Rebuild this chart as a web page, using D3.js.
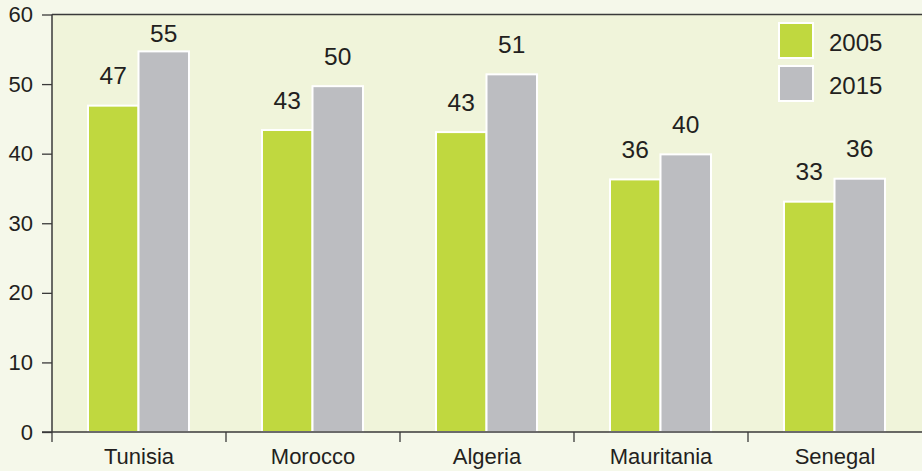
<!DOCTYPE html>
<html>
<head>
<meta charset="utf-8">
<script src="https://cdn.jsdelivr.net/npm/d3@7"></script>
<style>
  html, body { margin: 0; padding: 0; background: #f5f8ea; }
  svg { display: block; }
  text { font-family: "Liberation Sans", Arial, Helvetica, sans-serif; fill: #231f20; }
</style>
</head>
<body>
<svg id="chart" width="922" height="471"></svg>
<script>
// Countries on the x axis
const countries = ["Tunisia", "Morocco", "Algeria", "Mauritania", "Senegal"];
// Series
const years = ["2005", "2015"];
const values2005 = [46.9, 43.4, 43.1, 36.3, 33.1];
const values2015 = [54.7, 49.7, 51.4, 39.9, 36.4];
// Y axis ticks
const yTicks = [0, 10, 20, 30, 40, 50, 60];

const colors = { "2005": "#c0d83f", "2015": "#bcbdc1" };

const W = 922, H = 471;
const margin = { top: 14.5, right: 0, bottom: 39, left: 52 };
const svg = d3.select("#chart");

const x = d3.scaleBand().domain(countries).range([margin.left, W - margin.right]).paddingInner(0).paddingOuter(0);
const xSub = d3.scaleBand().domain(years).range([36, x.bandwidth() - 37]).padding(0);
const y = d3.scaleLinear().domain([0, 60]).range([H - margin.bottom, margin.top]);

// Plot background
svg.append("rect")
  .attr("x", margin.left).attr("y", margin.top)
  .attr("width", W - margin.left - margin.right)
  .attr("height", y(0) - margin.top)
  .attr("fill", "#f0f4da");

const rows = countries.map((c, i) => ({ country: c, "2005": values2005[i], "2015": values2015[i] }));

// Bars
const groups = svg.append("g").selectAll("g").data(rows).join("g")
  .attr("transform", d => `translate(${x(d.country)},0)`);

groups.selectAll("rect").data(d => years.map(k => ({ key: k, value: d[k] }))).join("rect")
  .attr("x", d => xSub(d.key))
  .attr("y", d => y(d.value))
  .attr("width", xSub.bandwidth())
  .attr("height", d => y(0) - y(d.value))
  .attr("fill", d => colors[d.key])
  .attr("stroke", "#ffffff")
  .attr("stroke-width", 2);

// Value labels
groups.selectAll("text.val").data(d => years.map(k => ({ key: k, value: d[k] }))).join("text")
  .attr("class", "val")
  .attr("x", d => xSub(d.key) + xSub.bandwidth() / 2)
  .attr("y", d => Math.max(y(d.value) - 21.5, 42.3))
  .attr("text-anchor", "middle")
  .attr("font-size", 24.5)
  .text(d => Math.round(d.value));

// Y axis
const yAxis = d3.axisLeft(y).tickValues(yTicks).tickSize(10).tickPadding(9);
const gy = svg.append("g").attr("transform", `translate(${margin.left},0)`).call(yAxis);
gy.select(".domain").remove();
gy.selectAll(".tick line").attr("stroke", "#3a3a3a").attr("stroke-width", 1.3);
gy.selectAll(".tick text").attr("font-size", 22).attr("font-family", "Liberation Sans, Arial, sans-serif").attr("fill", "#231f20");

// X axis with ticks at category boundaries
const gx = svg.append("g").attr("transform", `translate(0,${y(0)})`);
gx.append("line").attr("x1", margin.left - 10).attr("x2", W).attr("y1", 0).attr("y2", 0)
  .attr("stroke", "#3a3a3a").attr("stroke-width", 1.5);
const bounds = countries.map(c => x(c));
gx.selectAll("line.b").data(bounds).join("line")
  .attr("class", "b")
  .attr("x1", d => d).attr("x2", d => d).attr("y1", 0).attr("y2", 10)
  .attr("stroke", "#3a3a3a").attr("stroke-width", 1.3);
gx.selectAll("text").data(countries).join("text")
  .attr("x", d => x(d) + x.bandwidth() / 2)
  .attr("y", 32)
  .attr("text-anchor", "middle")
  .attr("font-size", 22)
  .text(d => d);

// Frame: left axis and top edge
svg.append("line").attr("x1", margin.left).attr("x2", margin.left)
  .attr("y1", margin.top).attr("y2", y(0))
  .attr("stroke", "#3a3a3a").attr("stroke-width", 1.5);
svg.append("line").attr("x1", margin.left).attr("x2", W)
  .attr("y1", margin.top).attr("y2", margin.top)
  .attr("stroke", "#3a3a3a").attr("stroke-width", 1.5);

// Legend
const legend = svg.append("g").attr("transform", "translate(779,23)");
const li = legend.selectAll("g").data(years).join("g")
  .attr("transform", (d, i) => `translate(0,${i * 43})`);
li.append("rect").attr("width", 34).attr("height", 35)
  .attr("fill", d => colors[d]).attr("stroke", "#ffffff").attr("stroke-width", 2);
li.append("text").attr("x", 50).attr("y", 27.5).attr("font-size", 24).text(d => d);
</script>
</body>
</html>
